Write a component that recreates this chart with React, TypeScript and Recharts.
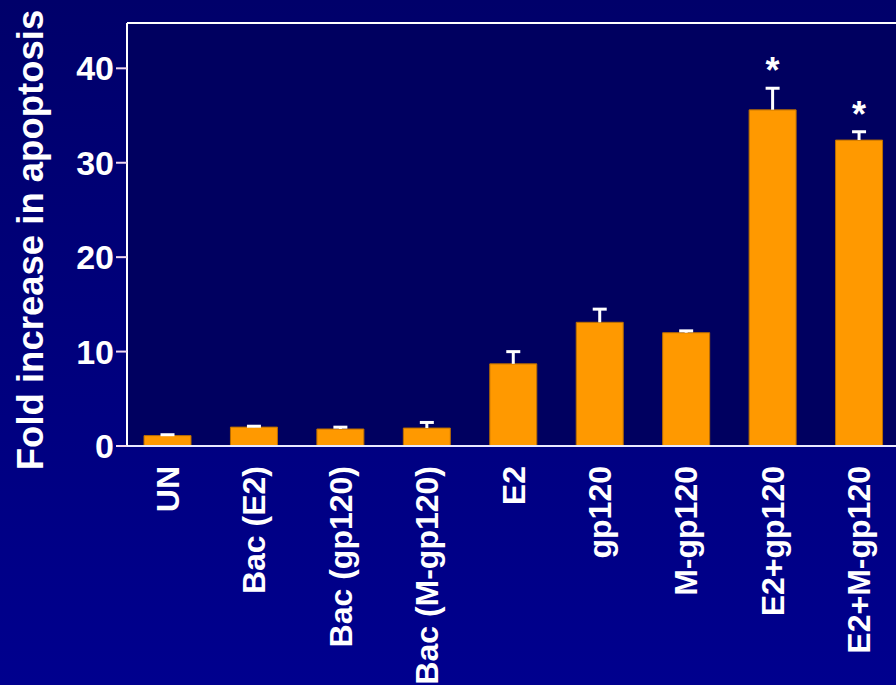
import React from 'react';
import { BarChart, Bar, XAxis, YAxis, CartesianGrid, LabelList, ReferenceLine } from 'recharts';

const categories = ['UN', 'Bac (E2)', 'Bac (gp120)', 'Bac (M-gp120)', 'E2', 'gp120', 'M-gp120', 'E2+gp120', 'E2+M-gp120'];
const means = [1.1, 2.0, 1.8, 1.9, 8.7, 13.1, 12.0, 35.6, 32.4];
const errors = [0.2, 0.2, 0.3, 0.7, 1.4, 1.5, 0.3, 2.4, 1.0];
const significant = [false, false, false, false, false, false, false, true, true];
const yTicks = [0, 10, 20, 30, 40];

const FONT = 'Arial, "Liberation Sans", Helvetica, sans-serif';

const data = categories.map((name, i) => ({
  name,
  value: means[i],
  err: errors[i],
  star: significant[i] ? 1 : 0,
}));

// upper-only error bar drawn on top of the stacked value bar
const ErrShape = (props: any) => {
  const { x, y, width, height } = props;
  const cx = x + width / 2;
  return (
    <g>
      <line x1={cx} y1={y + height} x2={cx} y2={y + 1} stroke="#ffffff" strokeWidth={3} />
      <line x1={cx - 7} y1={y + 1} x2={cx + 7} y2={y + 1} stroke="#ffffff" strokeWidth={3} />
    </g>
  );
};

const StarLabel = (props: any) => {
  const { x, y, width, value } = props;
  if (!value) return null;
  return (
    <text x={x + width / 2} y={y - 4} textAnchor="middle" fill="#ffffff" fontSize={36} fontWeight="bold" fontFamily={FONT}>
      *
    </text>
  );
};

const XTick = (props: any) => {
  const { x, y, payload } = props;
  return (
    <text
      transform={`translate(${x},${y}) rotate(-90)`}
      textAnchor="end"
      dy="0.36em"
      fill="#ffffff"
      fontSize={32}
      fontWeight="bold"
      fontFamily={FONT}
    >
      {payload.value}
    </text>
  );
};

const YTitle = () => (
  <text
    transform="translate(43,240) rotate(-90)"
    textAnchor="middle"
    fill="#ffffff"
    fontSize={36.5}
    fontWeight="bold"
    fontFamily={FONT}
  >
    Fold increase in apoptosis
  </text>
);

export default function App() {
  return (
    <div
      style={{
        position: 'absolute',
        left: 0,
        top: 0,
        width: 896,
        height: 685,
        overflow: 'hidden',
        background: 'linear-gradient(to bottom, #00006a 0%, #00008e 100%)',
      }}
    >
      <BarChart width={902} height={685} data={data} margin={{ top: 23, right: 0, left: 0, bottom: 0 }}>
        <CartesianGrid horizontal={false} vertical={false} fill="#000060" />
        <XAxis
          dataKey="name"
          interval={0}
          height={239}
          padding={{ left: -3, right: 0 }}
          tickLine={false}
          tickSize={0}
          tickMargin={20}
          axisLine={{ stroke: '#e8e8ff', strokeWidth: 2 }}
          tick={<XTick />}
        />
        <YAxis
          width={127}
          domain={[0, 44.8]}
          ticks={yTicks}
          allowDataOverflow
          tickSize={11}
          tickMargin={2}
          tickLine={{ stroke: '#f2d8f0', strokeWidth: 2 }}
          axisLine={{ stroke: '#ffffff', strokeWidth: 2 }}
          tick={{ fill: '#ffffff', fontSize: 34, fontWeight: 'bold', fontFamily: FONT }}
          label={<YTitle />}
        />
        <ReferenceLine y={44.8} stroke="#ffffff" strokeWidth={2} />
        <Bar dataKey="value" stackId="a" barSize={47} fill="#ff9900" stroke="#b86c00" strokeWidth={1} isAnimationActive={false} />
        <Bar dataKey="err" stackId="a" barSize={47} shape={<ErrShape />} isAnimationActive={false}>
          <LabelList dataKey="star" content={<StarLabel />} />
        </Bar>
      </BarChart>
    </div>
  );
}
